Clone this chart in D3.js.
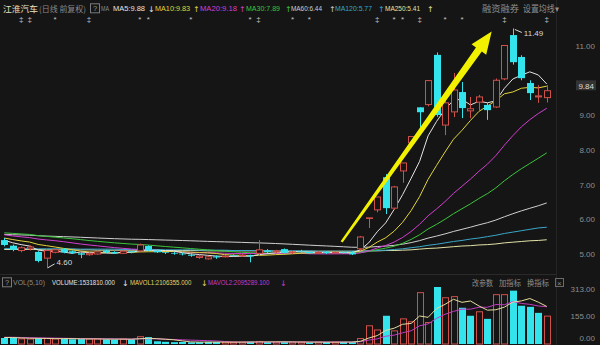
<!DOCTYPE html>
<html>
<head>
<meta charset="utf-8">
<script src="https://cdn.jsdelivr.net/npm/d3@7"></script>
<style>
  body { margin: 0; background: #151515; }
  svg { display: block; font-family: "Liberation Sans", "Noto Sans CJK SC", sans-serif; }
</style>
</head>
<body>
<svg id="chart"></svg>
<script>
// ---- data ----
const opens  = [5.40,5.24,5.10,5.15,5.06,4.88,5.05,5.14,5.08,5.02, 4.98,5.00,5.10,5.06,5.02,5.08,5.09,5.23,5.10,5.05,
                5.03,5.01,4.98,4.90,4.86,4.93,4.92,4.97,4.95,4.96, 5.02,5.10,5.06,5.14,5.04,5.08,5.06,5.02,5.06,5.03,
                5.05,5.04,5.15,6.04,6.27,7.21,6.32,7.39,8.20,9.22, 9.30,10.73,8.71,9.09,9.66,9.12,9.37,9.29,9.23,10.04,
                11.30,10.67,9.92,9.52,9.50];
const highs  = [5.46,5.27,5.22,5.25,5.08,5.12,5.15,5.17,5.10,5.04, 5.05,5.08,5.12,5.08,5.10,5.10,5.30,5.25,5.12,5.08,
                5.06,5.04,5.02,4.98,4.95,4.96,4.97,4.99,4.99,4.98, 5.40,5.14,5.12,5.16,5.08,5.12,5.08,5.08,5.08,5.07,
                5.08,5.08,5.52,6.04,6.64,7.30,6.96,7.62,8.38,9.22, 9.99,10.80,9.40,10.21,9.95,9.52,9.58,9.35,10.05,11.00,
                11.49,10.72,10.00,9.86,9.86];
const lows   = [5.22,5.08,5.05,5.10,4.76,4.60,5.02,5.02,5.00,4.88, 4.95,4.98,5.03,5.00,5.00,5.02,5.07,5.08,5.03,5.00,
                4.98,4.96,4.92,4.86,4.84,4.86,4.90,4.93,4.92,4.76, 4.95,5.03,5.02,5.02,5.00,5.02,5.00,5.00,5.00,5.00,
                5.01,4.97,5.10,5.75,6.20,6.15,6.28,7.05,8.10,8.57, 9.25,8.95,8.42,8.94,8.91,8.91,9.09,8.86,9.20,10.00,
                10.45,10.00,9.43,9.35,9.36];
const closes = [5.26,5.12,5.18,5.20,4.80,5.10,5.12,5.05,5.03,4.98, 5.02,5.06,5.05,5.02,5.08,5.05,5.26,5.10,5.05,5.03,
                5.01,4.99,4.95,4.94,4.92,4.90,4.94,4.95,4.97,4.93, 5.12,5.06,5.09,5.03,5.06,5.07,5.02,5.05,5.03,5.05,
                5.04,4.99,5.49,6.04,6.64,6.32,6.93,7.62,8.38,9.08, 9.99,9.00,9.35,9.72,9.20,9.18,9.52,9.14,10.00,11.00,
                10.52,10.06,9.63,9.55,9.70];
// volume in units of 10,000
const volumes = [33,35,28,27,33,30,28,30,26,27, 28,28,26,25,27,26,40,38,15,12,
                 10,11,9,10,12,11,10,9,10,13, 14,11,10,12,10,11,9,10,11,10,
                 12,11,30,100,77,155,72,138,122,282, 118,313,254,260,199,155,177,138,271,271,
                 293,210,204,171,153];

// closes before the visible window (needed for the moving averages)
const priorCloses = [5.62,5.58,5.65,5.71,5.68,5.60,5.55,5.52,5.58,5.63,
                     5.70,5.66,5.59,5.54,5.50,5.47,5.52,5.49,5.44,5.40,
                     5.38,5.42,5.46,5.41,5.37,5.33,5.36,5.40,5.45,5.51,
                     5.58,5.64,5.70,5.76,5.81,5.78,5.72,5.69,5.74,5.80,
                     5.77,5.70,5.66,5.62,5.60,5.57,5.63,5.68,5.64,5.59,
                     5.55,5.58,5.52,5.49,5.46,5.50,5.44,5.41,5.38];
const priorVolumes = [36,40,38,42,35,37,39,34,36];

// long averages
const ma120 = [5.16,5.16,5.16,5.16,5.15,5.15,5.15,5.15,5.15,5.14, 5.14,5.14,5.14,5.14,5.13,5.13,5.13,5.13,5.13,5.12,
               5.12,5.12,5.12,5.11,5.11,5.11,5.11,5.10,5.10,5.10, 5.10,5.10,5.09,5.09,5.09,5.09,5.09,5.08,5.08,5.08,
               5.08,5.08,5.08,5.09,5.10,5.11,5.13,5.15,5.18,5.21, 5.25,5.28,5.32,5.36,5.39,5.43,5.46,5.50,5.54,5.59,
               5.63,5.67,5.71,5.75,5.77];
const ma250 = [5.13,5.13,5.13,5.13,5.13,5.12,5.12,5.12,5.12,5.12, 5.12,5.11,5.11,5.11,5.11,5.11,5.11,5.10,5.10,5.10,
               5.10,5.10,5.10,5.10,5.09,5.09,5.09,5.09,5.09,5.09, 5.09,5.09,5.08,5.08,5.08,5.08,5.08,5.08,5.08,5.08,
               5.08,5.08,5.08,5.09,5.09,5.10,5.10,5.11,5.12,5.14, 5.16,5.17,5.19,5.21,5.23,5.24,5.26,5.27,5.29,5.32,
               5.34,5.36,5.38,5.39,5.41];

const priceTicks = [5, 6, 7, 8, 9, 10, 11];
const volTicks = [0, 155, 313];
const lastPrice = 9.84;
const highMark = {i: 60, v: 11.49};
const lowMark = {i: 5, v: 4.60};
const markerIdx   = [2, 3, 6, 10, 16, 17, 22, 29, 30, 34, 36, 44, 46, 47, 49, 52, 54, 59, 64];
const markerGlyph = ["‡","‡","*","‡","*","*","*","*","‡","*","*","‡","*","*","‡","*","*","‡","‡"];
const arrowFrom = [39.8, 5.35], arrowTo = [57.5, 11.40];   // [candle index, price]

const maLabels = ["MA5:9.88", "MA10:9.83", "MA20:9.18", "MA30:7.89", "MA60:6.44", "MA120:5.77", "MA250:5.41"];
const maArrows = ["↓", "↑", "↑", "↑", "↑", "↑", "↑"];
const volLabels = ["VOLUME:1531810.000", "MAVOL1:2106355.000", "MAVOL2:2095289.100"];

// ---- setup ----
const W = 600, H = 345;
const BG = "#151515", RED = "#d0504a", CYAN = "#34e4ec";
const maColors = ["#e4e4e4", "#e2d43c", "#d23ed2", "#3cc43c", "#cfcfcf", "#3aa6c8", "#e2e2a6"];

const svg = d3.select("#chart").attr("width", W).attr("height", H);
svg.append("rect").attr("width", W).attr("height", H).attr("fill", BG);

const n = closes.length;
const x = d3.scaleBand().domain(d3.range(n)).range([0, 551]).paddingInner(0.3).paddingOuter(0.15);
const xc = i => x(0) + x.bandwidth() / 2 + i * x.step();
const y = d3.scaleLinear().domain([5, 11]).range([254, 45.5]);
const vy = d3.scaleLinear().domain([0, 313]).range([344, 287]);

// frame lines
svg.append("line").attr("x1", 0).attr("x2", 556).attr("y1", 274.5).attr("y2", 274.5).attr("stroke", "#2a2a2a");
svg.append("line").attr("x1", 556.5).attr("x2", 556.5).attr("y1", 0).attr("y2", H).attr("stroke", "#242424");

// moving averages
const allCloses = priorCloses.concat(closes);
const off = priorCloses.length;
const ma = p => d3.range(n).map(i => d3.mean(allCloses.slice(i + off - p + 1, i + off + 1)));
const maSeries = [ma(5), ma(10), ma(20), ma(30), ma(60), ma120, ma250];

const line = d3.line().x((d, i) => xc(i)).y(d => y(d));
const maG = svg.append("g");
maSeries.slice().reverse().forEach((s, k) => {
  maG.append("path").attr("d", line(s)).attr("fill", "none")
    .attr("stroke", maColors[maSeries.length - 1 - k]).attr("stroke-width", 1);
});

// candles
const candles = d3.range(n).map(i => ({i, o: opens[i], h: highs[i], l: lows[i], c: closes[i]}));
const cg = svg.append("g");
cg.selectAll("line").data(candles).join("line")
  .attr("x1", d => Math.round(xc(d.i)) + 0.5).attr("x2", d => Math.round(xc(d.i)) + 0.5)
  .attr("y1", d => y(d.h)).attr("y2", d => y(d.l))
  .attr("stroke", d => d.c >= d.o ? RED : CYAN);
cg.selectAll("rect").data(candles).join("rect")
  .attr("x", d => d.c >= d.o ? Math.round(xc(d.i)) - 2.5 : Math.round(xc(d.i)) - 3)
  .attr("width", d => d.c >= d.o ? 6 : 7)
  .attr("y", d => y(Math.max(d.o, d.c)))
  .attr("height", d => Math.max(0.6, y(Math.min(d.o, d.c)) - y(Math.max(d.o, d.c))))
  .attr("fill", d => d.c >= d.o ? BG : CYAN)
  .attr("stroke", d => d.c >= d.o ? RED : "none");

// high / low tags
const hx = xc(highMark.i), hy = y(highMark.v);
svg.append("line").attr("x1", hx + 2).attr("y1", hy + 1).attr("x2", hx + 9).attr("y2", hy + 4).attr("stroke", "#d8d8d8");
svg.append("text").attr("x", hx + 11).attr("y", hy + 7.5).attr("font-size", 8).attr("fill", "#d8d8d8").text(highMark.v.toFixed(2));
const lx = xc(lowMark.i), ly = y(lowMark.v);
svg.append("line").attr("x1", lx + 1).attr("y1", ly).attr("x2", lx + 8).attr("y2", ly - 4).attr("stroke", "#d8d8d8");
svg.append("text").attr("x", lx + 10).attr("y", ly - 3).attr("font-size", 8).attr("fill", "#d8d8d8").text(lowMark.v.toFixed(2));

// yellow trend arrow
const p0 = [xc(arrowFrom[0]), y(arrowFrom[1])], p1 = [xc(arrowTo[0]), y(arrowTo[1])];
const L = Math.hypot(p1[0] - p0[0], p1[1] - p0[1]);
const u = [(p1[0] - p0[0]) / L, (p1[1] - p0[1]) / L], nv = [-u[1], u[0]];
const at = (d, w) => [p0[0] + u[0] * d + nv[0] * w, p0[1] + u[1] * d + nv[1] * w];
const hl = 22;
svg.append("polygon")
  .attr("points", [at(0, 1.2), at(L - hl, 3.6), at(L - hl, 9), p1, at(L - hl, -9), at(L - hl, -3.6), at(0, -1.2)].map(p => p.join(",")).join(" "))
  .attr("fill", "#f2f200");

// event markers
svg.append("g").selectAll("text").data(markerIdx).join("text")
  .attr("x", d => xc(d)).attr("y", 22).attr("text-anchor", "middle")
  .attr("font-size", 8).attr("fill", "#c4c4c4")
  .text((d, k) => markerGlyph[k]);

// price axis
const axisG = svg.append("g").attr("font-size", 8).attr("fill", "#8e8e8e");
axisG.selectAll("text").data(priceTicks.filter(t => Math.abs(y(t) - y(lastPrice)) > 9)).join("text")
  .attr("x", 595).attr("y", d => y(d) + 3).attr("text-anchor", "end").text(d => d.toFixed(2));
svg.append("rect").attr("x", 576).attr("y", y(lastPrice) - 5.5).attr("width", 20).attr("height", 10).attr("fill", "#333");
svg.append("text").attr("x", 594).attr("y", y(lastPrice) + 3).attr("text-anchor", "end")
  .attr("font-size", 8).attr("fill", "#dcdcdc").text(lastPrice.toFixed(2));

// volume bars
const allVols = priorVolumes.concat(volumes);
const vOff = priorVolumes.length;
const prevClose = i => i === 0 ? priorCloses[priorCloses.length - 1] : closes[i - 1];
const vg = svg.append("g");
vg.selectAll("rect").data(volumes).join("rect")
  .attr("x", (d, i) => closes[i] >= prevClose(i) ? Math.round(xc(i)) - 2.5 : Math.round(xc(i)) - 3)
  .attr("width", (d, i) => closes[i] >= prevClose(i) ? 6 : 7)
  .attr("y", d => vy(d)).attr("height", d => Math.max(1, vy(0) - vy(d)))
  .attr("fill", (d, i) => closes[i] >= prevClose(i) ? BG : CYAN)
  .attr("stroke", (d, i) => closes[i] >= prevClose(i) ? RED : "none");

const mav = p => d3.range(n).map(i => d3.mean(allVols.slice(i + vOff - p + 1, i + vOff + 1)));
const vline = d3.line().x((d, i) => xc(i)).y(d => vy(d));
svg.append("path").attr("d", vline(mav(10))).attr("fill", "none").attr("stroke", "#c03cc0");
svg.append("path").attr("d", vline(mav(5))).attr("fill", "none").attr("stroke", "#e4dca0");

const vAxis = svg.append("g").attr("font-size", 8).attr("fill", "#8e8e8e");
vAxis.selectAll("text").data(volTicks).join("text")
  .attr("x", 595).attr("y", d => Math.max(289, Math.min(338, vy(d))) + 3).attr("text-anchor", "end")
  .text(d => d.toFixed(2));

// ---- header texts ----
function label(t, x0, yy, w, color, size, font) {
  const el = svg.append("text").attr("x", x0).attr("y", yy).attr("fill", color).attr("font-size", size).text(t);
  if (w) el.attr("textLength", w).attr("lengthAdjust", "spacingAndGlyphs");
  if (font) el.attr("font-family", font);
  return el;
}
// narrow text: squeezed horizontally with a transform
function narrow(t, x0, yy, sx, color, size) {
  return svg.append("text").attr("transform", `translate(${x0},${yy}) scale(${sx},1)`)
    .attr("fill", color).attr("font-size", size).text(t);
}
function helpBox(x0, yc) {
  svg.append("rect").attr("x", x0 + 0.5).attr("y", yc - 4.5).attr("width", 9).attr("height", 9)
    .attr("fill", "none").attr("stroke", "#7a7a7a");
  label("?", x0 + 3, yc + 3, null, "#9a9a9a", 7.5);
}
const CJK = "Noto Sans CJK SC";
label("江淮汽车", 3, 11.5, 35, "#e6e2c6", 8.5, CJK);
label("(日线 前复权)", 39, 11.5, 47, "#8a8a8a", 8, CJK);
helpBox(90, 8.3);
label("MA", 101, 11.3, 8, "#8a8a8a", 8);
const maX = [113, 155, 200, 246, 291, 335, 385];
const maW = [32, 35, 37, 34, 31, 37, 35];
const arX = [148, 193, 239, 285, 329, 378, 427];
maLabels.forEach((t, k) => {
  label(t, maX[k], 11.3, maW[k], maColors[k], 8);
  label(maArrows[k], arX[k], 11.5, null, maColors[k], 8, "DejaVu Sans");
});
label("融资融券", 482, 11.8, 37, "#8e8e8e", 9, CJK);
label("设置均线▾", 523, 11.8, 36, "#8e8e8e", 9, CJK);

helpBox(2, 282.3);
label("VOL(5,10)", 13, 285.3, 32, "#8a8a8a", 8);
const vColors = ["#e4e4e4", "#e2d46a", "#c63cc6"];
const vX = [52, 130, 208], vaX = [122, 201, 280];
volLabels.forEach((t, k) => {
  narrow(t, vX[k], 285.3, 0.76, vColors[k], 8);
  label("↓", vaX[k], 285.5, null, vColors[k], 8, "DejaVu Sans");
});
label("改参数", 472, 286, 21, "#8e8e8e", 7.5, CJK);
label("加指标", 499, 286, 22, "#8e8e8e", 7.5, CJK);
label("换指标", 527, 286, 22, "#8e8e8e", 7.5, CJK);
svg.append("rect").attr("x", 555.5).attr("y", 278.5).attr("width", 8).attr("height", 8).attr("fill", "none").attr("stroke", "#6a6a6a");
label("×", 557, 285.5, null, "#8e8e8e", 8);
</script>
</body>
</html>
